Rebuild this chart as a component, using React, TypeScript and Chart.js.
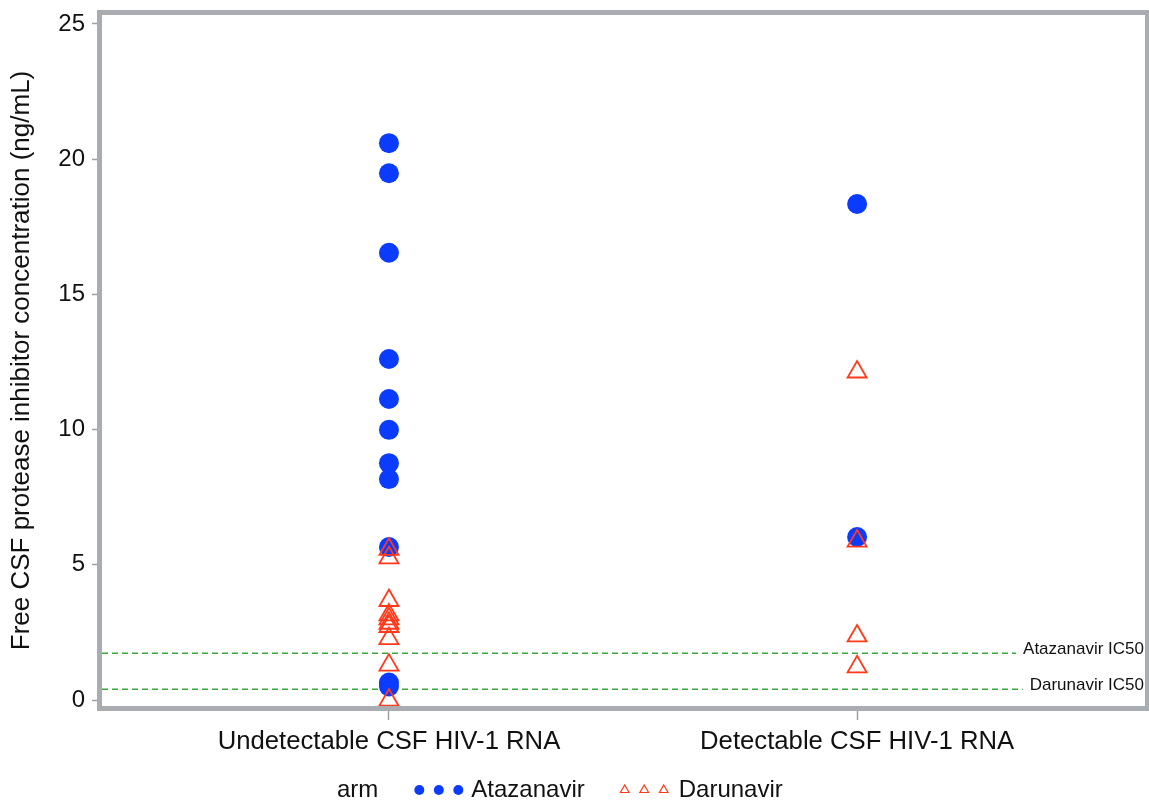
import { useEffect, useRef } from 'react';
import { Chart, registerables } from 'chart.js';

Chart.register(...registerables);

// ---- data ----
const categories = ['Undetectable CSF HIV-1 RNA', 'Detectable CSF HIV-1 RNA'];
const atazanavirUndetectable = [20.59, 19.48, 16.54, 12.61, 11.13, 9.99, 8.76, 8.17, 5.66, 0.65, 0.5];
const atazanavirDetectable = [18.34, 6.03];
const darunavirUndetectable = [5.57, 5.26, 3.68, 3.15, 3.0, 2.84, 2.72, 2.27, 1.29, 0.0];
const darunavirDetectable = [12.13, 5.88, 2.37, 1.23];
const refLineLabels = ['Atazanavir IC50', 'Darunavir IC50'];
const refLineValues = [1.73, 0.4];
const yTicks = [0, 5, 10, 15, 20, 25];
const legendTitle = 'arm';
const seriesNames = ['Atazanavir', 'Darunavir'];

const FONT = '"Liberation Sans", Arial, Helvetica, sans-serif';
const BLUE = '#0b3bff';
const RED = '#ff3a1a';
const GREEN = '#3aa83a';
const FRAME = '#a9acb0';
const TEXT = '#111111';

const refAndFramePlugin = {
  id: 'refAndFrame',
  beforeDatasetsDraw(chart: any) {
    const { ctx, chartArea, scales } = chart;
    ctx.save();
    ctx.font = `17px ${FONT}`;
    refLineValues.forEach((v, i) => {
      const y = scales.y.getPixelForValue(v);
      const label = refLineLabels[i];
      const w = ctx.measureText(label).width;
      const textLeft = chartArea.right - 1 - w;
      ctx.strokeStyle = GREEN;
      ctx.lineWidth = 1.5;
      ctx.setLineDash([6, 4]);
      ctx.beginPath();
      ctx.moveTo(chartArea.left, y);
      ctx.lineTo(textLeft - 7, y);
      ctx.stroke();
      ctx.setLineDash([]);
      ctx.fillStyle = TEXT;
      ctx.textAlign = 'left';
      ctx.textBaseline = 'alphabetic';
      ctx.fillText(label, textLeft, y + 0.5);
    });
    ctx.restore();
  },
  afterDatasetsDraw(chart: any) {
    const { ctx, chartArea } = chart;
    ctx.save();
    ctx.strokeStyle = FRAME;
    ctx.lineWidth = 5;
    ctx.strokeRect(
      chartArea.left - 2.5,
      chartArea.top - 2.5,
      chartArea.right - chartArea.left + 5,
      chartArea.bottom - chartArea.top + 5
    );
    ctx.restore();
  },
  afterDraw(chart: any) {
    const { ctx } = chart;
    ctx.save();
    const cy = 790;
    ctx.font = `24px ${FONT}`;
    ctx.fillStyle = TEXT;
    ctx.textBaseline = 'middle';
    ctx.textAlign = 'left';
    let x = 337;
    ctx.fillText(legendTitle, x, cy);
    x += ctx.measureText(legendTitle).width + 41;
    // Atazanavir markers
    ctx.fillStyle = BLUE;
    for (let k = 0; k < 3; k++) {
      ctx.beginPath();
      ctx.arc(x + k * 19.5, cy, 5, 0, Math.PI * 2);
      ctx.fill();
    }
    x += 2 * 19.5 + 13;
    ctx.fillStyle = TEXT;
    ctx.fillText(seriesNames[0], x, cy);
    x += ctx.measureText(seriesNames[0]).width + 40;
    ctx.strokeStyle = RED;
    ctx.lineWidth = 1.2;
    for (let k = 0; k < 3; k++) {
      const px = x + k * 19.5;
      const r = 5;
      ctx.beginPath();
      ctx.moveTo(px, cy - r);
      ctx.lineTo(px + r * 0.866, cy + r * 0.5);
      ctx.lineTo(px - r * 0.866, cy + r * 0.5);
      ctx.closePath();
      ctx.stroke();
    }
    x += 2 * 19.5 + 15;
    ctx.fillStyle = TEXT;
    ctx.fillText(seriesNames[1], x, cy);
    ctx.restore();
  },
};

export default function App() {
  const ref = useRef<HTMLCanvasElement>(null);
  useEffect(() => {
    document.body.style.margin = '0';
    const pts = (vals: number[], cat: number) => vals.map((v) => ({ x: cat, y: v }));
    const zeroPad = (s: any) => {
      s.paddingLeft = 0;
      s.paddingRight = 0;
      s.paddingTop = 0;
      s.paddingBottom = 0;
    };
    const chart = new Chart(ref.current as HTMLCanvasElement, {
      type: 'scatter',
      data: {
        datasets: [
          {
            label: seriesNames[0],
            data: [...pts(atazanavirUndetectable, 0), ...pts(atazanavirDetectable, 1)],
            pointStyle: 'circle',
            pointRadius: 10,
            backgroundColor: BLUE,
            borderColor: BLUE,
            borderWidth: 0,
            order: 2,
          },
          {
            label: seriesNames[1],
            data: [...pts(darunavirUndetectable, 0), ...pts(darunavirDetectable, 1)],
            pointStyle: 'triangle',
            pointRadius: 11,
            backgroundColor: 'rgba(0,0,0,0)',
            borderColor: RED,
            borderWidth: 1.8,
            order: 1,
          },
        ],
      },
      options: {
        responsive: false,
        animation: false,
        events: [],
        layout: { autoPadding: false, padding: { left: 0, top: 15, right: 4, bottom: 0 } },
        plugins: { legend: { display: false }, tooltip: { enabled: false } },
        scales: {
          x: {
            type: 'linear',
            min: -0.613,
            max: 1.615,
            afterBuildTicks: (s: any) => {
              s.ticks = categories.map((_, i) => ({ value: i }));
            },
            afterFit: (s: any) => {
              s.height = 95;
              zeroPad(s);
            },
            ticks: {
              callback: (v: any) => categories[v] ?? '',
              font: { family: FONT, size: 25.7 },
              color: TEXT,
              padding: 6,
              maxRotation: 0,
              autoSkip: false,
            },
            grid: {
              drawOnChartArea: false,
              drawTicks: true,
              tickLength: 14,
              tickColor: '#a0a0a0',
              tickWidth: 1.5,
            },
            border: { display: false },
          },
          y: {
            type: 'linear',
            min: -0.22,
            max: 25.33,
            afterBuildTicks: (s: any) => {
              s.ticks = yTicks.map((v) => ({ value: v }));
            },
            afterFit: (s: any) => {
              s.width = 102;
              zeroPad(s);
            },
            ticks: {
              callback: (v: any) => String(v),
              font: { family: FONT, size: 24 },
              color: TEXT,
              padding: 7,
            },
            grid: {
              drawOnChartArea: false,
              drawTicks: true,
              tickLength: 10,
              tickColor: '#a0a0a0',
              tickWidth: 1.5,
            },
            border: { display: false },
            title: {
              display: true,
              text: 'Free CSF protease inhibitor concentration (ng/mL)',
              font: { family: FONT, size: 26 },
              color: TEXT,
              padding: { top: 6, bottom: 0 },
            },
          },
        },
      },
      plugins: [refAndFramePlugin],
    });
    return () => chart.destroy();
  }, []);
  return <canvas ref={ref} width={1149} height={801} style={{ display: 'block' }} />;
}
